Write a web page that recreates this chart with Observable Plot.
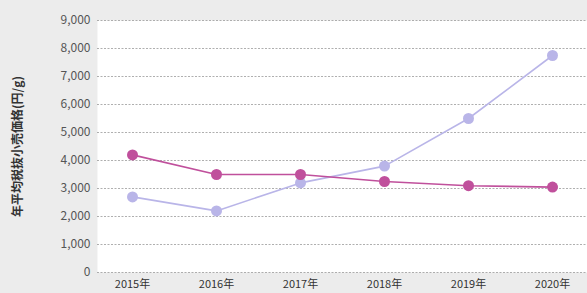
<!DOCTYPE html>
<html>
<head>
<meta charset="utf-8">
<script src="https://cdn.jsdelivr.net/npm/d3@7"></script>
<script src="https://cdn.jsdelivr.net/npm/@observablehq/plot@0.6"></script>
<style>
  html, body { margin: 0; padding: 0; background: #ececec; }
  #chart svg { display: block; background: #ececec; }
</style>
</head>
<body>
<div id="chart"></div>
<script>
const years = ["2015年", "2016年", "2017年", "2018年", "2019年", "2020年"];
const seriesA = [4200, 3500, 3500, 3250, 3100, 3050]; // magenta
const seriesB = [2700, 2200, 3200, 3800, 5500, 7750]; // lavender
const yTicks = [0, 1000, 2000, 3000, 4000, 5000, 6000, 7000, 8000, 9000];
const yLabel = "年平均税抜小売価格(円/g)";

const dataA = years.map((y, i) => ({year: y, value: seriesA[i]}));
const dataB = years.map((y, i) => ({year: y, value: seriesB[i]}));

const colA = "#c0509c";
const colB = "#b9b5e8";

const chart = Plot.plot({
  width: 587,
  height: 293,
  marginLeft: 97,
  marginRight: 0,
  marginTop: 20,
  marginBottom: 21,
  style: {fontFamily: "'Noto Sans CJK JP', sans-serif", background: "#ececec"},
  x: {type: "point", domain: years, padding: 0.39, label: null},
  y: {domain: [0, 9000], label: null},
  marks: [
    Plot.frame({fill: "white", stroke: null}),
    Plot.ruleY(yTicks, {stroke: "#9a9a9a", strokeDasharray: "2,1.5", strokeWidth: 0.8}),
    Plot.axisY({ticks: yTicks, tickFormat: d3.format(","), tickSize: 0, tickPadding: 7, fontSize: 12, color: "#555",
      label: yLabel, labelAnchor: "center", labelArrow: "none", labelOffset: 84}),
    Plot.axisX({tickSize: 0, tickPadding: 8, fontSize: 11, color: "#333", label: null}),
    Plot.line(dataB, {x: "year", y: "value", stroke: colB, strokeWidth: 1.6}),
    Plot.line(dataA, {x: "year", y: "value", stroke: colA, strokeWidth: 1.6}),
    Plot.dot(dataB, {x: "year", y: "value", fill: colB, r: 5.5}),
    Plot.dot(dataA, {x: "year", y: "value", fill: colA, r: 5.5})
  ]
});
document.getElementById("chart").appendChild(chart);
chart.querySelectorAll("g[aria-label='y-axis label'] text").forEach(t => {
  t.setAttribute("font-size", "12");
  t.setAttribute("font-weight", "bold");
  t.setAttribute("fill", "#333");
});
</script>
</body>
</html>
